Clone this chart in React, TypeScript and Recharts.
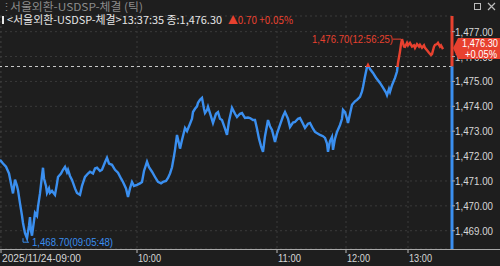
import React from 'react';
import { LineChart, Line, XAxis, YAxis, CartesianGrid, ReferenceLine, ReferenceDot } from 'recharts';

// tick sequence position (trade index scaled) and price
const ticksData: [number, number][] = [
  [0, 1471.85], [3, 1471.7], [6, 1471.57], [9, 1471.3], [11, 1470.9], [13, 1470.5], [15, 1471.05], [17, 1470.8],
  [18, 1470.63], [20, 1470.1], [22, 1469.6], [23, 1469.31], [25, 1468.9], [27, 1468.7], [29, 1469.2], [30, 1469.55],
  [31, 1469.0], [32, 1468.8], [34, 1469.4], [35, 1469.72], [37, 1469.6], [38, 1469.96], [40, 1470.5], [42, 1471.2],
  [43, 1471.53], [44, 1471.1], [46, 1470.8], [47, 1470.52], [49, 1470.7], [50, 1470.52], [52, 1470.6], [55, 1470.44],
  [57, 1470.9], [58, 1471.16], [61, 1471.3], [63, 1471.45], [65, 1471.57], [67, 1471.35], [68, 1471.45], [70, 1471.2],
  [72, 1471.04], [75, 1470.7], [77, 1470.52], [80, 1470.44], [82, 1470.8], [85, 1471.16], [88, 1471.3], [90, 1471.37],
  [93, 1471.3], [95, 1471.5], [97, 1471.53], [100, 1471.4], [102, 1471.45], [105, 1471.75], [107, 1471.93], [109, 1471.7],
  [112, 1471.65], [115, 1471.45], [118, 1471.33], [121, 1471.1], [123, 1470.96], [126, 1470.7], [128, 1470.36], [130, 1470.7],
  [132, 1470.96], [134, 1470.8], [137, 1470.84], [140, 1470.9], [142, 1470.96], [144, 1471.4], [147, 1471.77], [149, 1471.55],
  [152, 1471.37], [155, 1471.16], [158, 1470.96], [161, 1470.9], [163, 1470.96], [166, 1471.0], [168, 1471.12], [170, 1471.3],
  [172, 1471.55], [174, 1472.0], [175, 1472.25], [177, 1472.85], [179, 1472.5], [180, 1472.3], [182, 1472.65], [185, 1473.13],
  [187, 1473.0], [190, 1473.3], [192, 1473.5], [193, 1473.77], [195, 1473.9], [197, 1474.0], [198, 1474.14], [200, 1474.26],
  [202, 1474.34], [204, 1473.9], [205, 1473.73], [207, 1473.85], [208, 1473.98], [211, 1473.6], [213, 1473.33], [216, 1473.7],
  [218, 1473.77], [220, 1473.5], [222, 1473.45], [225, 1473.1], [227, 1472.85], [229, 1473.4], [232, 1473.94], [235, 1473.7],
  [237, 1473.57], [240, 1473.7], [242, 1473.73], [245, 1473.53], [248, 1473.55], [250, 1473.53], [253, 1473.45], [255, 1473.45],
  [257, 1473.1], [259, 1472.7], [261, 1472.4], [263, 1472.17], [265, 1472.8], [268, 1473.45], [270, 1473.2], [272, 1473.05],
  [275, 1472.57], [277, 1472.9], [280, 1473.25], [283, 1473.6], [285, 1473.77], [288, 1473.5], [290, 1473.17], [293, 1473.35],
  [295, 1473.37], [298, 1473.5], [300, 1473.53], [303, 1473.3], [305, 1473.13], [308, 1473.3], [310, 1473.33], [313, 1473.1],
  [315, 1472.97], [318, 1472.9], [320, 1472.85], [323, 1472.8], [325, 1472.73], [327, 1472.5], [328, 1472.17], [330, 1472.6],
  [332, 1472.77], [333, 1472.25], [335, 1472.7], [337, 1472.97], [340, 1473.25], [342, 1473.5], [343, 1473.86], [345, 1473.77],
  [347, 1473.5], [348, 1473.33], [350, 1473.7], [352, 1474.06], [355, 1474.2], [357, 1474.26], [360, 1474.38], [362, 1474.6],
  [363, 1474.78], [365, 1475.2], [367, 1475.58], [368, 1475.66], [370, 1475.5], [373, 1475.34], [376, 1475.15], [380, 1474.94],
  [383, 1474.75], [386, 1474.55], [387, 1474.45], [389, 1474.7], [390, 1474.58], [392, 1474.85], [395, 1475.14], [397, 1475.4],
  [398, 1475.74], [400, 1476.2], [401, 1476.5], [402, 1476.7], [404, 1476.4], [405, 1476.39], [407, 1476.55], [408, 1476.45],
  [410, 1476.55], [412, 1476.4], [414, 1476.45], [415, 1476.35], [417, 1476.5], [419, 1476.4], [420, 1476.47], [422, 1476.35],
  [424, 1476.45], [425, 1476.35], [427, 1476.25], [429, 1476.15], [431, 1476.06], [432, 1476.1], [434, 1476.4], [435, 1476.47],
  [437, 1476.5], [438, 1476.55], [440, 1476.4], [441, 1476.45], [443, 1476.3],
];

const xTickPositions = [1, 137, 277, 346, 408];
const xTickLabels = ['2025/11/24-09:00', '10:00', '11:00', '12:00', '13:00'];
const yTicks = [1469, 1470, 1471, 1472, 1473, 1474, 1475, 1476, 1477];

const prevClose = 1475.6;
const lastPrice = 1476.3;
const changePct = '+0.05%';
const highPoint = { seq: 402, price: 1476.7, time: '12:56:25' };
const lowPoint = { seq: 27, price: 1468.7, time: '09:05:48' };
const yDomain: [number, number] = [1468.265, 1477.63];
const xDomain: [number, number] = [0, 452];

const data = ticksData.map(([seq, price]) => ({ seq, price }));

const BLUE = '#3a8ff0';
const RED = '#e8412f';
const BG = '#1e1e1e';

const fmt = (v: number) =>
  v.toLocaleString('en-US', { minimumFractionDigits: 2, maximumFractionDigits: 2 });

const XTick = (props: any) => {
  const { x, y, index } = props;
  const label = xTickLabels[index] ?? '';
  const w = label.length > 6 ? 79 : 23;
  return (
    <g>
      <line x1={x} y1={y} x2={x} y2={y + 4} stroke="#bbbbbb" strokeWidth={1} />
      <text x={x + 1} y={y + 13} fill="#d6d6d6" fontSize={11} fontFamily="Liberation Sans, Arial"
        textLength={w} lengthAdjust="spacingAndGlyphs">{label}</text>
    </g>
  );
};

const YTick = (props: any) => {
  const { x, y, payload } = props;
  return (
    <g>
      <line x1={x} y1={y} x2={x + 3} y2={y} stroke="#aaaaaa" strokeWidth={1} />
      <text x={x + 3} y={y + 4} fill="#d6d6d6" fontSize={11} fontFamily="Liberation Sans, Arial"
        textLength={38} lengthAdjust="spacingAndGlyphs">{fmt(payload.value)}</text>
    </g>
  );
};

const HighLabel = (props: any) => {
  const { cx, cy } = props;
  return (
    <g>
      <line x1={cx - 9} y1={cy} x2={cx - 1} y2={cy} stroke={RED} strokeWidth={1} />
      <text x={cx - 90} y={cy + 4} fill={RED} fontSize={11} fontFamily="Liberation Sans, Arial"
        textLength={81} lengthAdjust="spacingAndGlyphs">{`${fmt(highPoint.price)}(${highPoint.time})`}</text>
    </g>
  );
};

const LowLabel = (props: any) => {
  const { cx, cy } = props;
  return (
    <g>
      <polyline points={`${cx - 4},${cy} ${cx - 4},${cy + 4} ${cx + 2},${cy + 4}`} fill="none" stroke={BLUE} strokeWidth={1} />
      <text x={cx + 5} y={cy + 8} fill={BLUE} fontSize={11} fontFamily="Liberation Sans, Arial"
        textLength={81} lengthAdjust="spacingAndGlyphs">{`${fmt(lowPoint.price)}(${lowPoint.time})`}</text>
    </g>
  );
};

const LastLabel = (props: any) => {
  const { cx, cy } = props;
  const x0 = cx + 1;
  return (
    <g>
      <path d={`M${x0},${cy - 1} L${x0 + 5},${cy - 11} L${x0 + 48},${cy - 11} L${x0 + 48},${cy + 10} L${x0 + 5},${cy + 10} Z`} fill={RED} />
      <text x={x0 + 9} y={cy - 2} fill="#ffffff" fontSize={10} fontFamily="Liberation Sans, Arial"
        textLength={36} lengthAdjust="spacingAndGlyphs">{fmt(lastPrice)}</text>
      <text x={x0 + 12} y={cy + 8.5} fill="#ffffff" fontSize={10} fontFamily="Liberation Sans, Arial"
        textLength={32} lengthAdjust="spacingAndGlyphs">{changePct}</text>
    </g>
  );
};

export default function App() {
  const offset = (highPoint.price - prevClose) / (highPoint.price - lowPoint.price);
  return (
    <div style={{ position: 'absolute', left: 0, top: 0, width: 500, height: 266, background: BG, overflow: 'hidden' }}>
      <LineChart width={500} height={266} data={data} margin={{ top: 16, right: 0, bottom: 0, left: 0 }}>
        <defs>
          <linearGradient id="priceStroke" x1="0" y1="0" x2="0" y2="1">
            <stop offset={offset} stopColor={RED} />
            <stop offset={offset} stopColor={BLUE} />
          </linearGradient>
        </defs>
        <CartesianGrid stroke="#3a3a3a" strokeDasharray="2 3" horizontal vertical />
        <XAxis dataKey="seq" type="number" domain={xDomain} ticks={xTickPositions} height={17}
          axisLine={false} tickLine={false} tickSize={0} tickMargin={0} tick={<XTick />} interval={0} allowDataOverflow />
        <YAxis orientation="right" type="number" domain={yDomain} ticks={yTicks} width={48}
          axisLine={false} tickLine={false} tickSize={0} tickMargin={0} tick={<YTick />} interval={0} allowDataOverflow />
        <ReferenceLine y={prevClose} stroke="#c8c8c8" strokeDasharray="3 3" strokeWidth={1} />
        <ReferenceLine segment={[{ x: xDomain[1], y: yDomain[1] }, { x: xDomain[1], y: prevClose }]} stroke={RED} strokeWidth={3} ifOverflow="visible" />
        <ReferenceLine segment={[{ x: xDomain[1], y: prevClose }, { x: xDomain[1], y: yDomain[0] }]} stroke={BLUE} strokeWidth={3} ifOverflow="visible" />
        <Line type="linear" dataKey="price" stroke="url(#priceStroke)" strokeWidth={2.4} dot={false} isAnimationActive={false} />
        <ReferenceDot x={highPoint.seq} y={highPoint.price} ifOverflow="visible" shape={<HighLabel />} />
        <ReferenceDot x={lowPoint.seq} y={lowPoint.price} ifOverflow="visible" shape={<LowLabel />} />
        <ReferenceDot x={xDomain[1]} y={lastPrice} ifOverflow="visible" shape={<LastLabel />} {...({ zIndex: 3000 } as any)} />
      </LineChart>
      <div style={{ position: 'absolute', left: 0, top: 249, width: 500, height: 1, background: '#a8a8a8' }} />
      <svg width={500} height={30} style={{ position: 'absolute', left: 0, top: 0 }}>
        <text x={1} y={11} fill="#8c8c8c" fontSize={11} fontFamily="Noto Sans CJK KR">⋮</text>
        <text x={10} y={11} fill="#8c8c8c" fontSize={11} fontFamily="Noto Sans CJK KR"
          textLength={133} lengthAdjust="spacingAndGlyphs">서울외환-USDSP-체결 (틱)</text>
        <rect x={2} y={16} width={2} height={8} fill="#e6e6e6" />
        <text x={7} y={24} fill="#e6e6e6" fontSize={11} fontFamily="Noto Sans CJK KR"
          textLength={215} lengthAdjust="spacingAndGlyphs">{`<서울외환-USDSP-체결>13:37:35 종:${fmt(lastPrice)}`}</text>
        <text x={228} y={24} fill={RED} fontSize={11} fontFamily="Noto Sans CJK KR"
          textLength={65} lengthAdjust="spacingAndGlyphs">{`▲${(lastPrice - prevClose).toFixed(2)} ${changePct}`}</text>
        <rect x={474.5} y={3.5} width={6} height={6} fill="none" stroke="#bbbbbb" strokeWidth={1} />
        <path d="M488,3 L495,10 M495,3 L488,10" stroke="#bbbbbb" strokeWidth={1.2} />
      </svg>
    </div>
  );
}
